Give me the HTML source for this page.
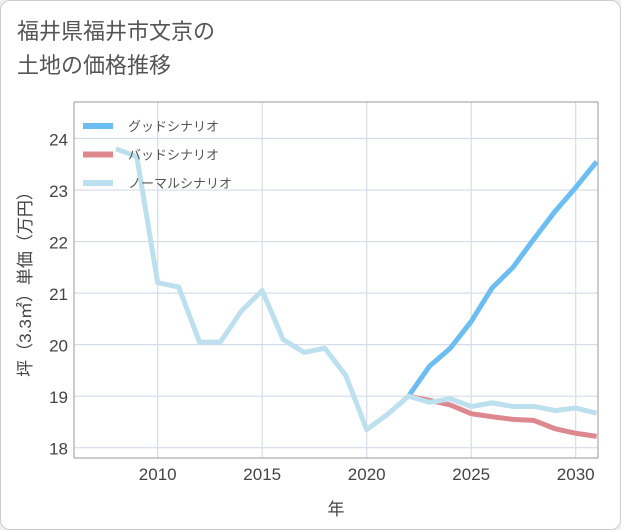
<!DOCTYPE html>
<html><head><meta charset="utf-8"><style>
body{margin:0;background:#f0f0f0;}
#card{position:absolute;left:0;top:0;width:619px;height:528px;border:1px solid #ccc;border-radius:10px;background:#fff;overflow:hidden;font-family:"Liberation Sans","Noto Sans CJK JP",sans-serif;}
#title{position:absolute;left:16px;top:14px;font-size:22px;line-height:34px;color:#555;}
</style></head><body>
<div id="card">
<div id="title">福井県福井市文京の<br>土地の価格推移</div>
<svg id="chart" width="621" height="530" style="position:absolute;left:0;top:0"></svg>
</div>
<script>
const years=[2008,2009,2010,2011,2012,2013,2014,2015,2016,2017,2018,2019,2020,2021,2022,2023,2024,2025,2026,2027,2028,2029,2030,2031];
const normal=[23.8,23.65,21.2,21.12,20.05,20.05,20.65,21.05,20.1,19.85,19.93,19.4,18.35,18.65,19.0,18.88,18.95,18.8,18.87,18.8,18.8,18.72,18.77,18.67];
const goodYears=[2022,2023,2024,2025,2026,2027,2028,2029,2030,2031];
const good=[19.0,19.58,19.93,20.45,21.1,21.5,22.05,22.58,23.05,23.55];
const bad=[19.0,18.92,18.83,18.66,18.6,18.55,18.53,18.37,18.28,18.22];
const xTicks=[2010,2015,2020,2025,2030];
const yTicks=[18,19,20,21,22,23,24];
const L=73,R=597,T=101,B=457;
const X=v=>156.7+(v-2010)*20.9;
const Y=v=>446.7-(v-18)*51.53;
const svg=document.getElementById('chart');
const NS='http://www.w3.org/2000/svg';
function mk(t,a,p){const e=document.createElementNS(NS,t);for(const k in a)e.setAttribute(k,a[k]);(p||svg).appendChild(e);return e;}
const clip=mk('clipPath',{id:'pc'});mk('rect',{x:L,y:T,width:R-L,height:B-T},clip);
for(const t of yTicks){const g=mk('line',{x1:L,x2:R,y1:Y(t),y2:Y(t),stroke:'#d5dde8','stroke-width':1.2});

const tx=mk('text',{x:L-6,y:Y(t)+7,'text-anchor':'end','font-size':17,fill:'#444'});tx.textContent=t;
}
for(const t of xTicks){const g=mk('line',{x1:X(t),x2:X(t),y1:T,y2:B,stroke:'#d5dde8','stroke-width':1.2});

const tx=mk('text',{x:X(t),y:B+22,'text-anchor':'middle','font-size':17,fill:'#444'});tx.textContent=t;
}
const fr=mk('rect',{x:L,y:T,width:R-L,height:B-T,fill:'none',stroke:'#999','stroke-width':1});

function line(xs,ys,c,name){const p=mk('polyline',{points:xs.map((x,i)=>X(x)+','+Y(ys[i])).join(' '),fill:'none',stroke:c,'stroke-width':5,'stroke-linejoin':'round','clip-path':'url(#pc)'});
}
line(goodYears,good,'#6cbdf2','good-scenario-line');
line(goodYears,bad,'#dc888e','bad-scenario-line');
line(years,normal,'#bde0ef','normal-scenario-line');
const leg=[['グッドシナリオ','#6cbdf2'],['バッドシナリオ','#dc888e'],['ノーマルシナリオ','#bde0ef']];
leg.forEach((d,i)=>{const y=125+i*28.5;
const s=mk('line',{x1:82,x2:112,y1:y,y2:y,stroke:d[1],'stroke-width':6});

const t=mk('text',{x:127,y:y+5,'font-size':13,fill:'#555'});t.textContent=d[0];
});
const yt=mk('text',{transform:'translate(30,279) rotate(-90)','text-anchor':'middle','font-size':17,fill:'#444'});yt.textContent='坪（3.3㎡）単価（万円）';

const xt=mk('text',{x:335,y:514,'text-anchor':'middle','font-size':17,fill:'#444'});xt.textContent='年';

</script>
</body></html>
